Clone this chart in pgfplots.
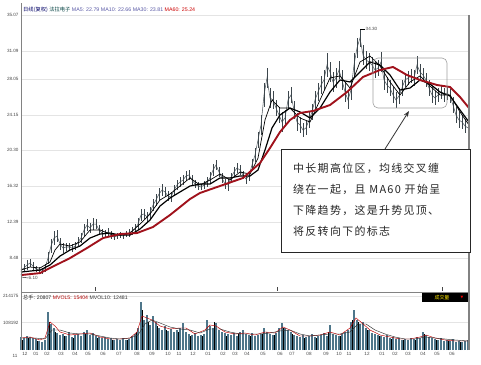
\documentclass[border=0pt]{standalone}
\usepackage{fontspec}
\setmainfont{Liberation Sans}
\newfontfamily\cjk{Noto Sans CJK SC}
\newfontfamily\cjkbox[LetterSpace=12]{Noto Sans CJK SC}
\newfontfamily\dejavu{DejaVu Sans}
\usepackage{pgfplots}
\usepackage{pgfplotstable}
\pgfplotsset{compat=1.18}
\usetikzlibrary{arrows.meta}
\definecolor{candle}{RGB}{60,70,76}
\definecolor{candlel}{RGB}{85,95,100}
\definecolor{mared}{RGB}{160,18,28}
\definecolor{volblue}{RGB}{78,118,138}
\definecolor{gridc}{RGB}{228,228,228}
\definecolor{axc}{RGB}{130,130,130}
\definecolor{lblc}{RGB}{70,70,70}

\pgfplotstableread{
x c e
21 7.17 0.44
24 7.39 0.44
27 7.72 0.55
30 7.94 0.44
33 7.61 0.44
36 7.28 0.33
39 7.17 0.33
42 7.06 0.33
45 7.39 0.44
48 8.48 0.66
51 9.80 0.77
54 10.67 0.77
57 10.89 0.66
60 10.02 0.66
63 9.58 0.55
66 9.69 0.44
69 9.69 0.44
72 9.58 0.44
75 9.80 0.44
78 10.24 0.55
81 10.67 0.55
84 11.55 0.66
87 12.09 0.66
90 11.77 0.55
93 12.20 0.66
96 12.20 0.55
99 11.55 0.55
102 11.22 0.44
105 11.11 0.44
108 11.33 0.44
111 11.00 0.44
114 10.78 0.33
117 10.89 0.33
120 11.00 0.33
123 10.89 0.33
126 11.11 0.33
129 11.22 0.44
132 11.44 0.44
135 11.66 0.55
138 12.20 0.66
141 13.19 0.66
144 13.30 0.55
147 12.97 0.55
150 13.41 0.66
153 14.28 0.66
156 14.83 0.66
159 15.49 0.66
162 15.92 0.66
165 15.71 0.55
168 15.27 0.55
171 15.16 0.55
174 15.92 0.55
177 16.47 0.55
180 16.80 0.55
183 17.02 0.55
186 17.46 0.55
189 17.57 0.55
192 17.02 0.55
195 16.58 0.44
198 16.36 0.44
201 16.25 0.33
204 16.47 0.44
207 16.80 0.55
210 17.24 0.66
213 18.11 0.66
216 18.66 0.55
219 17.89 0.55
222 17.24 0.55
225 16.58 0.55
228 16.47 0.66
231 17.24 0.55
234 17.89 0.55
237 18.33 0.55
240 18.11 0.55
243 17.57 0.44
246 17.13 0.55
249 17.46 0.55
252 18.66 0.66
255 19.75 0.77
258 21.39 0.88
261 23.03 1.09
264 26.32 1.31
267 28.18 1.09
270 25.99 1.09
273 25.77 0.98
276 24.89 0.88
279 24.13 0.88
282 23.36 1.09
285 23.80 0.88
288 25.77 0.98
291 26.32 0.88
294 24.68 0.98
297 23.36 0.98
300 23.03 0.88
303 22.49 0.77
306 22.71 0.77
309 23.58 0.88
312 24.46 0.88
315 25.77 0.98
318 26.64 0.98
321 27.41 0.98
324 27.96 1.09
327 29.60 1.31
330 28.83 1.09
333 27.74 1.09
336 28.18 1.09
339 29.05 0.98
342 27.96 1.09
345 26.64 1.09
348 25.77 0.98
351 26.86 1.09
354 29.60 1.31
357 31.46 1.09
360 32.55 0.98
363 30.69 1.09
366 30.15 0.98
369 29.93 0.98
372 29.60 0.88
375 29.05 0.88
378 29.27 0.88
381 29.93 1.09
384 27.96 1.09
387 27.41 0.88
390 27.08 0.88
393 26.32 0.88
396 25.77 0.88
399 26.21 0.88
402 27.08 0.88
405 27.96 0.77
408 28.18 0.77
411 28.40 0.77
414 28.18 0.88
417 29.60 0.98
420 28.83 0.88
423 28.50 0.77
426 27.96 0.77
429 27.08 0.88
432 26.32 0.88
435 25.99 0.77
438 26.32 0.77
441 26.64 0.77
444 26.32 0.77
447 26.54 0.77
450 26.21 0.77
453 25.22 0.88
456 24.13 0.88
459 23.58 0.88
462 23.36 0.77
465 22.93 0.77
468 22.71 0.77
}\price

\pgfplotstableread{
x v
21 7.17
30 7.50
40 7.39
50 8.05
55 9.36
60 10.02
70 9.80
80 10.24
90 11.55
100 11.55
110 11.11
120 11.00
130 11.22
140 12.20
150 13.30
160 14.83
170 15.49
180 16.36
190 17.24
200 16.47
210 17.02
220 17.67
230 17.02
240 17.89
250 17.67
258 19.42
265 23.58
272 25.77
280 24.89
290 24.89
300 23.80
310 23.36
320 25.77
330 28.18
340 28.40
350 27.08
360 29.93
370 30.58
380 29.49
390 27.74
400 26.32
410 27.74
420 28.40
430 27.30
440 26.32
450 26.32
460 24.46
469 23.03
}\maten

\pgfplotstableread{
x v
21 6.95
30 7.06
40 7.17
50 7.72
60 8.70
70 9.36
80 9.80
90 10.67
100 11.11
110 11.22
120 11.00
130 11.00
140 11.66
150 12.64
160 14.17
170 15.05
180 15.71
190 16.36
200 16.58
210 16.58
220 17.24
230 17.24
240 17.46
250 17.46
258 18.11
265 20.30
272 22.71
280 24.13
290 24.89
300 24.46
310 23.80
320 24.89
330 26.64
340 27.96
350 27.74
360 28.83
370 29.93
380 29.60
390 28.50
400 26.86
410 27.08
420 27.96
430 27.52
440 26.64
450 26.21
460 24.68
469 23.36
}\mathirty

\pgfplotstableread{
x v
21 6.62
40 6.84
50 7.39
70 8.48
87 9.58
103 10.67
120 11.11
137 11.22
153 11.88
170 13.19
180 14.06
190 14.94
200 15.60
217 16.25
243 17.24
260 18.88
270 20.52
280 22.27
290 23.58
300 24.35
313 24.57
330 25.22
347 26.64
363 28.29
380 29.05
393 29.38
407 28.50
420 27.96
437 27.41
450 27.19
460 26.10
469 24.89
}\masixty

\pgfplotstableread{
x v
21 51600
24 47600
27 55500
30 51600
33 47600
36 43600
39 35700
42 31700
45 39700
48 150700
51 103100
54 87300
57 67400
60 59500
63 63500
66 55500
69 71400
72 51600
75 59500
78 63500
81 55500
84 71400
87 79300
90 59500
93 67400
96 55500
99 51600
102 47600
105 51600
108 43600
111 47600
114 39700
117 43600
120 39700
123 47600
126 39700
129 43600
132 55500
135 63500
138 87300
141 190400
144 119000
147 138800
150 99200
153 134800
156 111000
159 87300
162 79300
165 95200
168 75400
171 83300
174 71400
177 79300
180 87300
183 107100
186 71400
189 63500
192 59500
195 67400
198 55500
201 59500
204 63500
207 119000
210 95200
213 87300
216 107100
219 79300
222 71400
225 67400
228 63500
231 59500
234 67400
237 55500
240 71400
243 79300
246 63500
249 59500
252 67400
255 55500
258 59500
261 63500
264 87300
267 71400
270 63500
273 59500
276 67400
279 87300
282 107100
285 87300
288 79300
291 71400
294 59500
297 55500
300 51600
303 59500
306 51600
309 55500
312 63500
315 51600
318 55500
321 59500
324 67400
327 55500
330 99200
333 63500
336 59500
339 55500
342 63500
345 71400
348 79300
351 111000
354 158600
357 119000
360 103100
363 111000
366 87300
369 79300
372 67400
375 63500
378 59500
381 55500
384 51600
387 59500
390 47600
393 51600
396 43600
399 47600
402 39700
405 43600
408 39700
411 47600
414 43600
417 51600
420 47600
423 71400
426 59500
429 51600
432 47600
435 43600
438 39700
441 47600
444 35700
447 39700
450 35700
453 43600
456 31700
459 35700
462 31700
465 35700
468 39700
}\volblue

\pgfplotstableread{
x v
22.5 39700
28.5 47600
37.5 35700
49.5 111000
55.5 71400
64.5 55500
73.5 47600
85.5 63500
97.5 47600
112.5 39700
127.5 39700
136.5 71400
142.5 158600
148.5 111000
157.5 95200
166.5 79300
178.5 71400
190.5 55500
202.5 55500
214.5 111000
226.5 55500
238.5 63500
250.5 55500
262.5 63500
274.5 59500
283.5 87300
292.5 63500
304.5 47600
316.5 47600
328.5 71400
340.5 55500
352.5 119000
358.5 111000
367.5 79300
379.5 55500
391.5 43600
403.5 39700
415.5 39700
424.5 63500
436.5 39700
448.5 35700
460.5 31700
}\volblack

\pgfplotstableread{
x v
21 47600
30 51600
40 39700
45 47600
50 111000
55 95200
60 71400
70 59500
80 63500
90 67400
100 51600
110 43600
120 43600
130 47600
137 71400
142 134800
147 126900
152 119000
160 95200
170 83300
180 87300
186 87300
195 63500
205 79300
210 99200
216 95200
225 71400
235 63500
245 67400
255 59500
265 71400
275 67400
283 91200
290 79300
300 55500
310 55500
320 59500
330 71400
340 59500
350 87300
356 126900
362 107100
370 79300
380 59500
390 51600
400 43600
410 43600
420 51600
426 59500
435 47600
445 39700
455 35700
468 35700
}\mvolfive

\pgfplotstableread{
x v
21 47600
35 47600
45 43600
52 79300
60 79300
70 67400
80 63500
90 63500
100 55500
110 47600
120 43600
130 47600
138 59500
145 103100
152 119000
160 107100
170 91200
180 83300
190 79300
200 67400
210 83300
220 83300
230 71400
240 63500
250 63500
260 63500
270 67400
280 75400
290 79300
300 63500
310 55500
320 59500
330 63500
340 63500
350 71400
358 103100
366 103100
375 79300
385 63500
395 51600
405 43600
415 43600
425 51600
435 47600
445 43600
455 39700
468 35700
}\mvolten

\begin{document}
\begin{tikzpicture}
\useasboundingbox[fill=white] (0,0) rectangle (481bp,-365bp);

\begin{axis}[
  at={(21bp,-293bp)}, anchor=south west,
  width=448bp, height=288bp, scale only axis,
  xmin=21, xmax=469, ymin=4.66, ymax=36.16,
  axis line style={draw=none},
  xtick=\empty,
  ytick={4.65,8.48,12.39,16.32,20.30,24.15,28.05,31.09,35.07},
  yticklabels={4.65,8.48,12.39,16.32,20.30,24.15,28.05,31.09,35.07},
  yticklabel style={font=\fontsize{4.6}{5}\selectfont, text=lblc, xshift=1bp},
  major tick length=0pt,
  ymajorgrids, grid style={gridc, line width=0.5pt},
  /pgf/number format/assume math mode=true,
  clip=false,
]
\addplot[candlel, line width=0.55pt,
  error bars/.cd, y dir=both, y explicit, error mark=none,
  error bar style={candle, line width=0.95pt}]
  table[x=x, y=c, y error=e] {\price};
\addplot[black, line width=0.7pt] table[x=x,y=v] {\maten};
\addplot[black, line width=1.2pt] table[x=x,y=v] {\mathirty};
\addplot[mared, line width=1.9pt] table[x=x,y=v] {\masixty};

\draw[black, line width=0.4pt] (axis cs:360,33.54) -- (axis cs:365,33.54)
  node[right, inner sep=0.5bp, font=\fontsize{4.6}{5}\selectfont, text=lblc] {34.30};
\draw[black, line width=0.4pt] (axis cs:22,6.40) -- (axis cs:28,6.30)
  node[right, inner sep=0.5bp, font=\fontsize{4.6}{5}\selectfont, text=lblc] {6.10};
\end{axis}

\begin{axis}[
  at={(21bp,-350bp)}, anchor=south west,
  width=448bp, height=57bp, scale only axis,
  xmin=21, xmax=469, ymin=0, ymax=226000,
  axis line style={draw=none},
  xtick={25,36,47,61,75,88,103,119,137,152,168,179,193,208,223,235,247,263,280,292,309,326,339,349,367,382,395,408,423,437,452},
  xticklabels={12,01,02,03,04,05,06,07,08,09,10,11,12,01,02,03,04,05,06,07,08,09,10,11,12,01,02,03,04,05,06},
  xticklabel style={font=\fontsize{4.6}{5}\selectfont, text=lblc, yshift=1bp},
  ytick={108192,214175},
  yticklabels={108192,214175},
  yticklabel style={font=\fontsize{4.6}{5}\selectfont, text=lblc, xshift=1bp},
  scaled y ticks=false,
  major tick length=0pt,
  ymajorgrids, grid style={gridc, line width=0.5pt},
  /pgf/number format/assume math mode=true,
  clip=false,
]
\addplot[ycomb, volblue, line width=2.3bp, mark=none] table[x=x,y=v] {\volblue};
\addplot[ycomb, black, line width=1.2bp, mark=none] table[x=x,y=v] {\volblack};
\addplot[red!75!black, line width=0.45pt] table[x=x,y=v] {\mvolfive};
\addplot[black!80, line width=0.45pt] table[x=x,y=v] {\mvolten};
\end{axis}

% frame lines
\draw[axc, line width=0.6pt] (21bp,-3bp) -- (21bp,-350bp);
\draw[axc, line width=1.6pt] (469bp,-15bp) -- (469bp,-350bp);
\draw[axc, line width=0.8pt] (21bp,-292.5bp) -- (469bp,-292.5bp);
\foreach \xx in {95,277,442} \draw[lblc, line width=0.4pt] (\xx bp,-287bp) -- (\xx bp,-291bp);
\node[font=\fontsize{4.6}{5}\selectfont, text=lblc, anchor=north] at (15bp,-351bp) {11};

% title
\node[anchor=west, inner sep=0pt, font=\fontsize{5.3}{6}\selectfont] at (23bp,-10bp)
 {\textcolor{blue!40!black}{\cjk 日线(复权)}\ \textcolor{teal!50!black}{\cjk 法拉电子}\ \textcolor{blue!30!gray}{MA5: 22.79\ MA10: 22.66\ MA30: 23.81}\ \textcolor{red!80!black}{MA60: 25.24}};

% volume label
\node[anchor=west, inner sep=0pt, font=\fontsize{5.2}{6}\selectfont] at (23bp,-298bp)
 {\textcolor{black!85}{{\cjk 总手}: 20807}\ \textcolor{red!70!black}{MVOL5: 15404}\ \textcolor{black!80}{MVOL10: 12481}};

% indicator box
\fill[black] (422bp,-293bp) rectangle (468bp,-302bp);
\node[font=\fontsize{5}{5}\selectfont, text=yellow!90!orange, inner sep=0pt] at (442bp,-297.5bp) {\cjk 成交量};
\node[font=\fontsize{3.5}{4}\selectfont, text=red, inner sep=0pt] at (462bp,-297.5bp) {\dejavu ▼};

% highlight region and arrow
\draw[gray!75, rounded corners=5bp, line width=0.6pt] (373bp,-58bp) rectangle (447bp,-108bp);
\draw[-{Stealth[length=6bp,width=4.5bp]}, line width=0.8pt, black!80] (385bp,-149bp) -- (409bp,-111bp);

% annotation box
\draw[black!85, fill=white, line width=0.8pt] (281bp,-149bp) rectangle (470bp,-252bp);
\begin{scope}[every node/.style={anchor=west, inner sep=0pt, text=black!85, font=\fontsize{11}{12}\cjkbox}]
\node at (293bp,-168bp) {中长期高位区，均线交叉缠};
\node at (293bp,-189.5bp) {绕在一起，且 MA60 开始呈};
\node at (293bp,-210.5bp) {下降趋势，这是升势见顶、};
\node at (293bp,-231bp) {将反转向下的标志};
\end{scope}
\end{tikzpicture}
\end{document}
